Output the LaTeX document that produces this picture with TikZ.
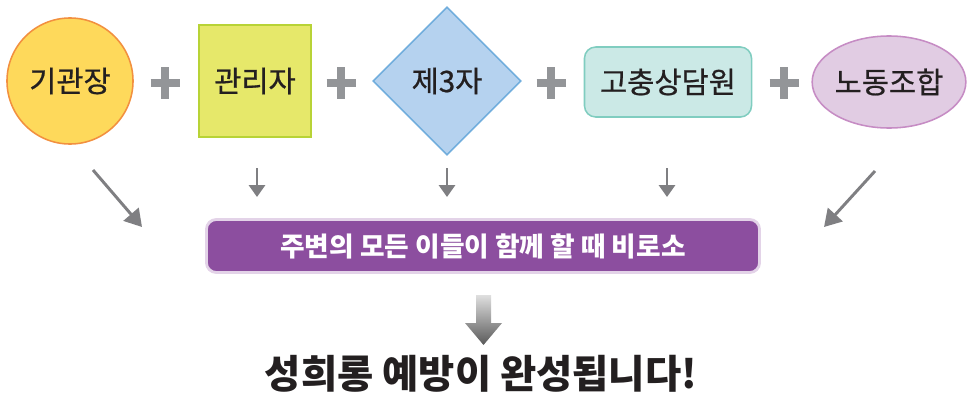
\documentclass[tikz,border=0pt]{standalone}
\usepackage{fontspec}
\setmainfont{Noto Sans CJK KR}
\newfontfamily\memberfont[FakeBold=0.7]{Noto Sans CJK KR}
\usetikzlibrary{shapes.geometric,arrows.meta}

\definecolor{txtdark}{HTML}{231F20}
\definecolor{plusgray}{HTML}{939598}
\definecolor{arrowgray}{HTML}{7F7F82}
\definecolor{circfill}{HTML}{FED95B}
\definecolor{circline}{HTML}{F2903F}
\definecolor{sqfill}{HTML}{E6E86A}
\definecolor{sqline}{HTML}{B8D336}
\definecolor{diafill}{HTML}{B5D2EF}
\definecolor{dialine}{HTML}{72AEDD}
\definecolor{rrfill}{HTML}{CBE9E6}
\definecolor{rrline}{HTML}{80CDC0}
\definecolor{elfill}{HTML}{E1CCE3}
\definecolor{elline}{HTML}{C68CC4}
\definecolor{boxfill}{HTML}{8C4E9F}
\definecolor{boxline}{HTML}{E3D3E8}

\begin{document}
\begin{tikzpicture}[x=0.025cm,y=-0.025cm,
  member/.style={font=\memberfont\fontsize{21}{23}\selectfont, text=txtdark, line width=1.1pt, inner sep=0pt},
  plus/.style={draw=plusgray, line width=5.7pt},
  smallarrow/.style={draw=arrowgray, line width=1.8pt, -{Triangle[length=8.5pt,width=11.5pt]}},
  diagarrow/.style={draw=arrowgray, line width=2.1pt, -{Triangle[length=12pt,width=14pt]}}]

\useasboundingbox (0,0) rectangle (970,401);

% the five members
\node[member, circle, fill=circfill, draw=circline, minimum size=3.15cm] (gwan) at (70,81) {기관장};
\node[member, rectangle, fill=sqfill, draw=sqline, minimum size=2.8cm] (admin) at (255,81) {관리자};
\node[member, diamond, fill=diafill, draw=dialine, minimum width=3.7cm, minimum height=3.7cm] (third) at (447,81) {제3자};
\node[member, rectangle, rounded corners=8pt, fill=rrfill, draw=rrline, minimum width=4.175cm, minimum height=1.75cm] (counsel) at (668,82) {고충상담원};
\node[member, ellipse, fill=elfill, draw=elline, minimum width=3.65cm, minimum height=2.3cm] (union) at (889,82) {노동조합};

% plus signs
\foreach \x in {165,341,551,784} {
  \draw[plus] (\x-14.5,83) -- (\x+14.5,83);
  \draw[plus] (\x,67) -- (\x,99);
}

% together box
\node[rectangle, rounded corners=7pt, fill=boxfill, draw=boxline, line width=2pt,
  minimum width=13.825cm, minimum height=1.325cm, text=white,
  font=\fontsize{19}{21}\selectfont\bfseries] (together) at (483,246) {주변의 모든 이들이 함께 할 때 비로소};

\coordinate (a1) at (93,170);  \coordinate (b1) at (142,227);
\coordinate (a2) at (257,168); \coordinate (b2) at (257,197);
\coordinate (a3) at (447,168); \coordinate (b3) at (447,197);
\coordinate (a4) at (667,168); \coordinate (b4) at (667,197);
\coordinate (a5) at (875,171); \coordinate (b5) at (824,227);

\draw[diagarrow] (a1) -- (b1);
\draw[smallarrow] (a2) -- (b2);
\draw[smallarrow] (a3) -- (b3);
\draw[smallarrow] (a4) -- (b4);
\draw[diagarrow] (a5) -- (b5);

% big arrow
\shade[top color=gray!25, bottom color=black!65]
  (476,295) -- (491,295) -- (491,323) -- (502,323) -- (483.5,345) -- (465,323) -- (476,323) -- cycle;

\node[text=txtdark, font=\fontsize{28}{31}\selectfont\bfseries] (result) at (481,374) {성희롱 예방이 완성됩니다!};

\end{tikzpicture}
\end{document}
